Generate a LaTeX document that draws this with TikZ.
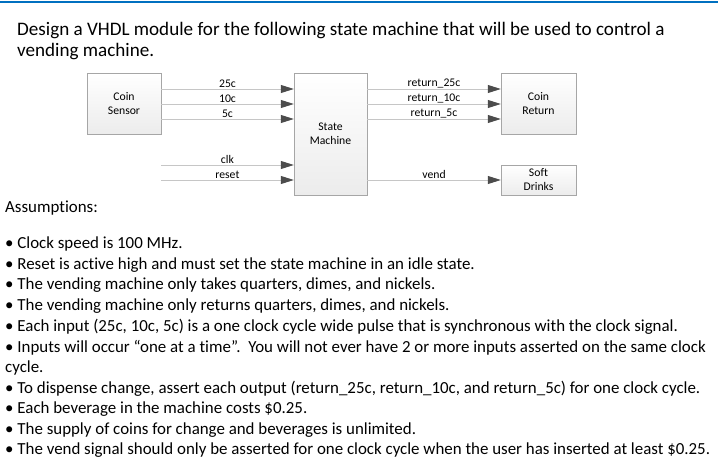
\documentclass[tikz,border=0pt]{standalone}
\usepackage{fontspec}
\setmainfont[Ligatures=NoCommon]{Carlito}
\usetikzlibrary{arrows.meta}
\definecolor{topblue}{RGB}{0,112,192}
\begin{document}
\begin{tikzpicture}[x=1pt,y=-1pt,
 blk/.style={draw=gray!70,top color=white,bottom color=gray!15,inner sep=0pt,align=center,font=\fontsize{11.7}{14}\selectfont},
 sig/.style={draw=gray!45,line width=0.8pt,-{Triangle[length=13pt,width=8pt,fill=black!70,color=black!70]}},
 lab/.style={font=\fontsize{11.7}{14}\selectfont,inner sep=1pt},
 txt/.style={anchor=base west,inner sep=0pt,font=\fontsize{16.9}{19}\selectfont},
 ttl/.style={anchor=base west,inner sep=0pt,font=\fontsize{19.1}{21}\selectfont}]
\useasboundingbox[fill=white] (0,0) rectangle (718,460);
\fill[topblue] (0,1) rectangle (718,3.5);
\node[ttl] (t1) at (17,36) {Design a VHDL module for the following state machine that will be used to control a};
\node[ttl] (t2) at (17,57) {vending machine.};
% blocks
\node[blk,minimum width=74pt,minimum height=61pt] (cs) at (124,103.5) {Coin\\Sensor};
\node[blk,minimum width=73pt,minimum height=122pt] (sm) at (330.5,134) {State\\Machine};
\node[blk,minimum width=75pt,minimum height=61pt] (cr) at (538.5,103.5) {Coin\\Return};
\node[blk,minimum width=75pt,minimum height=30pt] (sd) at (538.5,180) {Soft\\Drinks};
\coordinate (c1) at (161,165);
\coordinate (c2) at (161,180);
\draw[sig] (cs.east|-0,89) -- (sm.west|-0,89) node[lab,pos=0.5,above]{25c};
\draw[sig] (cs.east|-0,104) -- (sm.west|-0,104) node[lab,pos=0.5,above]{10c};
\draw[sig] (cs.east|-0,119) -- (sm.west|-0,119) node[lab,pos=0.5,above]{5c};
\draw[sig] (c1) -- (sm.west|-c1) node[lab,pos=0.5,above]{clk};
\draw[sig] (c2) -- (sm.west|-c2) node[lab,pos=0.5,above]{reset};
\draw[sig] (sm.east|-0,89) -- (cr.west|-0,89) node[lab,pos=0.5,above]{return\_25c};
\draw[sig] (sm.east|-0,104) -- (cr.west|-0,104) node[lab,pos=0.5,above]{return\_10c};
\draw[sig] (sm.east|-0,119) -- (cr.west|-0,119) node[lab,pos=0.5,above]{return\_5c};
\draw[sig] (sm.east|-sd) -- (sd.west) node[lab,pos=0.5,above]{vend};
% text
\node[txt] (a0) at (5,212) {Assumptions:};
\node[txt] (a1) at (5,248) {• Clock speed is 100 MHz.};
\node[txt] (a2) at (5,269) {• Reset is active high and must set the state machine in an idle state.};
\node[txt] (a3) at (5,289.5) {• The vending machine only takes quarters, dimes, and nickels.};
\node[txt] (a4) at (5,310) {• The vending machine only returns quarters, dimes, and nickels.};
\node[txt] (a5) at (5,331) {• Each input (25c, 10c, 5c) is a one clock cycle wide pulse that is synchronous with the clock signal.};
\node[txt] (a6) at (5,352) {• Inputs will occur “one at a time”.\ \ You will not ever have 2 or more inputs asserted on the same clock};
\node[txt] (a7) at (5,372) {cycle.};
\node[txt] (a8) at (5,393) {• To dispense change, assert each output (return\_25c, return\_10c, and return\_5c) for one clock cycle.};
\node[txt] (a9) at (5,413) {• Each beverage in the machine costs \$0.25.};
\node[txt] (a10) at (5,434) {• The supply of coins for change and beverages is unlimited.};
\node[txt] (a11) at (5,454.5) {• The vend signal should only be asserted for one clock cycle when the user has inserted at least \$0.25.};
\end{tikzpicture}
\end{document}
